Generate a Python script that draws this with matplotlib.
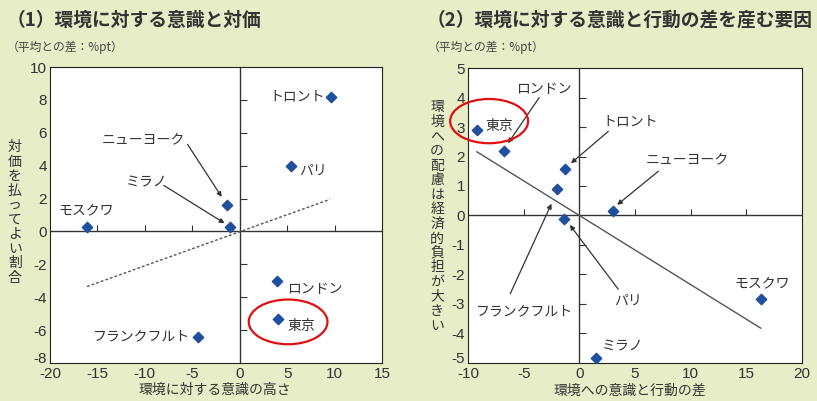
import numpy as np
import matplotlib.pyplot as plt
import matplotlib.transforms as mtrans
from matplotlib.patches import Ellipse

plt.rcParams['font.family'] = ['Noto Sans CJK JP', 'DejaVu Sans']
plt.rcParams['axes.unicode_minus'] = False

# (1) 環境に対する意識と対価
cities1 = ['トロント', 'パリ', 'ニューヨーク', 'ミラノ', 'モスクワ', 'ロンドン', '東京', 'フランクフルト']
x1 = [9.6, 5.4, -1.3, -1.0, -16.1, 3.9, 4.0, -4.4]
y1 = [8.2, 4.0, 1.6, 0.3, 0.3, -3.0, -5.3, -6.4]
fit1_x = [-16.1, 9.5]
fit1_y = [-3.35, 1.95]

# (2) 環境に対する意識と行動の差を産む要因
cities2 = ['東京', 'ロンドン', 'トロント', 'フランクフルト', 'パリ', 'ニューヨーク', 'モスクワ', 'ミラノ']
x2 = [-9.2, -6.8, -1.3, -2.0, -1.35, 3.0, 16.3, 1.5]
y2 = [2.9, 2.2, 1.58, 0.89, -0.13, 0.16, -2.83, -4.82]
fit2_x = [-9.2, 16.3]
fit2_y = [2.16, -3.82]

xt1 = np.arange(-20, 16, 5)
yt1 = np.arange(-8, 11, 2)
xt2 = np.arange(-10, 21, 5)
yt2 = np.arange(-5, 6, 1)

bg = '#e6edc7'
txt = '#333333'
mk = '#1f4f9e'

fig = plt.figure(figsize=(8.17, 4.01), dpi=100, facecolor=bg)
ax1 = fig.add_axes([0.0612, 0.0948, 0.4064, 0.738])
ax2 = fig.add_axes([0.5728, 0.0948, 0.4088, 0.7356])


def setup(ax, xt, yt):
    ax.set_xlim(xt[0], xt[-1])
    ax.set_ylim(yt[0], yt[-1])
    ax.set_xticks(xt)
    ax.set_yticks(yt)
    ax.tick_params(length=0, labelsize=11, labelcolor=txt)
    ax.tick_params(axis='x', pad=3)
    ax.tick_params(axis='y', pad=2)
    for lab in ax.get_xticklabels() + ax.get_yticklabels():
        lab.set_family('Liberation Sans')
    # lowest y label sits a little higher, as in the original
    low = ax.get_yticklabels()[0]
    low.set_transform(low.get_transform() + mtrans.ScaledTranslation(0, 5 / 100, fig.dpi_scale_trans))
    for s in ax.spines.values():
        s.set_linewidth(0.8)
        s.set_color('#222222')
    ax.axhline(0, color='#333333', lw=1.0)
    ax.axvline(0, color='#333333', lw=1.0)
    xin = xt[(xt != 0) & (xt != xt[0]) & (xt != xt[-1])]
    yin = yt[(yt != 0) & (yt != yt[0]) & (yt != yt[-1])]
    ax.plot(xin, np.zeros(len(xin)), ls='', marker=2, ms=4, color='#333333', mew=0.8)
    ax.plot(np.zeros(len(yin)), yin, ls='', marker=1, ms=5, color='#333333', mew=0.8)


setup(ax1, xt1, yt1)
setup(ax2, xt2, yt2)

# left chart
ax1.plot(fit1_x, fit1_y, ls=(0, (2, 1.5)), color='#555555', lw=1.0)
ax1.scatter(x1, y1, marker='D', s=28, color=mk, zorder=5)

lab_kw = dict(fontsize=10, color=txt, va='center')
ax1.text(9.0, 8.2, 'トロント', ha='right', **lab_kw)
ax1.text(6.3, 3.7, 'パリ', ha='left', **lab_kw)
ax1.text(-14.5, 5.6, 'ニューヨーク', ha='left', **lab_kw)
ax1.text(-12.0, 3.0, 'ミラノ', ha='left', **lab_kw)
ax1.text(-19.1, 1.3, 'モスクワ', ha='left', **lab_kw)
ax1.text(5.0, -3.5, 'ロンドン', ha='left', **lab_kw)
ax1.text(5.0, -5.75, '東京', ha='left', **lab_kw)
ax1.text(-5.2, -6.4, 'フランクフルト', ha='right', **lab_kw)
arr = dict(arrowstyle='-|>', color='#333333', lw=0.9, mutation_scale=7, shrinkA=0, shrinkB=0)
ax1.annotate('', xy=(-1.9, 2.1), xytext=(-5.5, 5.3), arrowprops=arr)
ax1.annotate('', xy=(-1.6, 0.5), xytext=(-8.0, 2.8), arrowprops=arr)
ax1.add_patch(Ellipse((5.1, -5.5), 8.3, 2.72, fill=False, ec='#e01010', lw=1.6, zorder=6))

# right chart
ax2.plot(fit2_x, fit2_y, color='#555555', lw=1.0)
ax2.scatter(x2, y2, marker='D', s=28, color=mk, zorder=5)
ax2.text(-8.4, 3.05, '東京', ha='left', **lab_kw)
ax2.text(-3.2, 4.3, 'ロンドン', ha='center', **lab_kw)
ax2.text(2.1, 3.2, 'トロント', ha='left', **lab_kw)
ax2.text(6.0, 1.9, 'ニューヨーク', ha='left', **lab_kw)
ax2.text(-4.9, -3.25, 'フランクフルト', ha='center', **lab_kw)
ax2.text(3.1, -2.9, 'パリ', ha='left', **lab_kw)
ax2.text(16.4, -2.3, 'モスクワ', ha='center', **lab_kw)
ax2.text(2.0, -4.45, 'ミラノ', ha='left', **lab_kw)
ax2.annotate('', xy=(-6.4, 2.45), xytext=(-3.6, 4.0), arrowprops=arr)
ax2.annotate('', xy=(-0.75, 1.77), xytext=(2.6, 2.85), arrowprops=arr)
ax2.annotate('', xy=(3.4, 0.36), xytext=(7.1, 1.5), arrowprops=arr)
ax2.annotate('', xy=(-2.5, 0.4), xytext=(-6.2, -2.65), arrowprops=arr)
ax2.annotate('', xy=(-0.85, -0.32), xytext=(3.5, -2.5), arrowprops=arr)
ax2.add_patch(Ellipse((-8.1, 3.2), 7.0, 1.5, fill=False, ec='#e01010', lw=1.6, zorder=6, clip_on=False))

# titles and axis texts
fig.text(0.008, 0.95, '（1）環境に対する意識と対価', fontsize=13.5, fontweight='bold', color=txt, va='center')
fig.text(0.008, 0.883, '（平均との差：%pt）', fontsize=8.5, color='#444444', va='center')
fig.text(0.522, 0.95, '（2）環境に対する意識と行動の差を産む要因', fontsize=13.5, fontweight='bold', color=txt, va='center')
fig.text(0.524, 0.883, '（平均との差：%pt）', fontsize=8.5, color='#444444', va='center')

ylab1 = '対価を払ってよい割合'
ylab2 = '環境への配慮は経済的負担が大きい'
fig.text(0.018, 0.47, '\n'.join(ylab1), fontsize=10, color=txt, ha='center', va='center', linespacing=1.05)
fig.text(0.535, 0.46, '\n'.join(ylab2), fontsize=10, color=txt, ha='center', va='center', linespacing=1.05)
fig.text(0.263, 0.027, '環境に対する意識の高さ', fontsize=10, color=txt, ha='center', va='center')
fig.text(0.771, 0.027, '環境への意識と行動の差', fontsize=10, color=txt, ha='center', va='center')

fig.savefig('out.png', dpi=100, facecolor=bg)
